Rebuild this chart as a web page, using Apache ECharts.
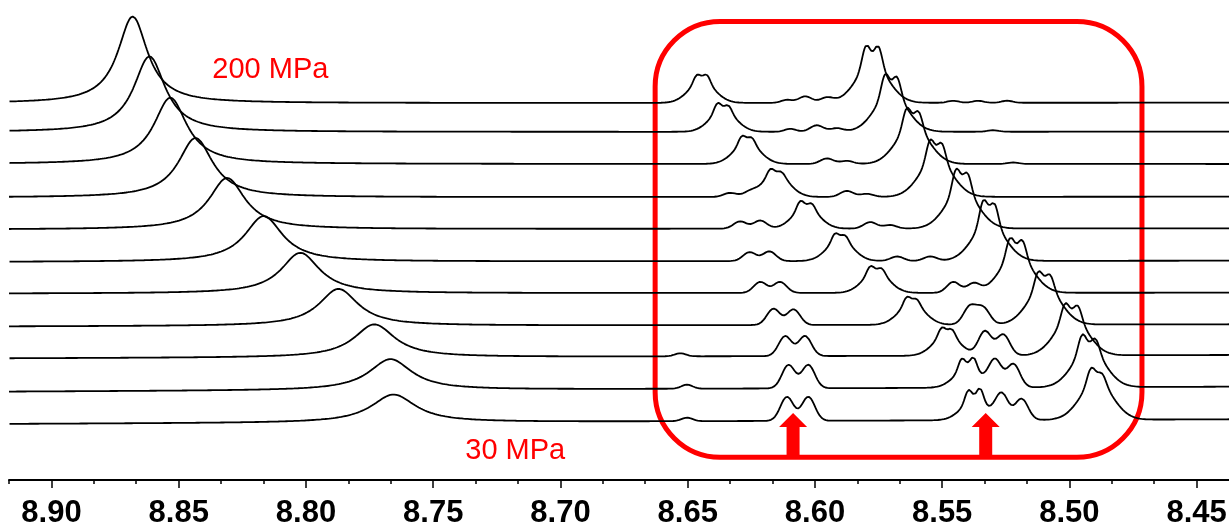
<!DOCTYPE html>
<html lang="en">
<head>
<meta charset="UTF-8">
<title>Stacked 1H NMR, 30-200 MPa</title>
<script src="https://cdn.jsdelivr.net/npm/echarts@6/dist/echarts.min.js"></script>
<style>
  body { margin: 0; background: #fff; }
  #chart { width: 1229px; height: 530px; }
</style>
</head>
<body>
<div id="chart"></div>
<script>
// ---- axis ----
const X_MIN = 8.4373;
const X_MAX = 8.9167;
const majorTicks = [8.90, 8.85, 8.80, 8.75, 8.70, 8.65, 8.60, 8.55, 8.50, 8.45];
const minorTicks = [8.9167, 8.8833, 8.8667, 8.8333, 8.8167, 8.7833, 8.7667, 8.7333, 8.7167,
  8.6833, 8.6667, 8.6333, 8.6167, 8.5833, 8.5667, 8.5333, 8.5167, 8.4833, 8.4667];

// ---- traces, top (200 MPa) to bottom (30 MPa) ----
// baseline level at the left and right ends of each trace
const baseLeft  = [376.7, 347.9, 316.0, 282.5, 250.5, 218.0, 186.4, 153.5, 121.6, 88.3, 56.0];
const baseRight = [377.3, 348.3, 316.0, 283.3, 251.7, 219.3, 187.3, 155.7, 125.0, 93.3, 60.7];

// broad peak on the left: [ppm, height, half width]
const bigPeak = [
  [8.8681, 86.7, 0.0071], [8.8615, 75.7, 0.0075], [8.8533, 66.3, 0.0079], [8.8434, 59.4, 0.0082],
  [8.8310, 51.3, 0.0086], [8.8166, 45.7, 0.0090], [8.8022, 40.6, 0.0092], [8.7872, 37.0, 0.0094],
  [8.7731, 33.0, 0.0098], [8.7668, 31.0, 0.0102], [8.7656, 28.0, 0.0106]
];

// moving doublet (left of the box): [ppm1, ppm2, h1, h2, base height]
const doubletA = [
  [8.6464, 8.6425, 8.4, 8.4, 21], [8.6383, 8.6340, 9.4, 7.1, 21], [8.6287, 8.6248, 8.4, 6.7, 21],
  [8.6176, 8.6130, 7.0, 4.0, 23], [8.6058, 8.6012, 8.7, 6.1, 21], [8.5921, 8.5881, 8.1, 6.1, 21],
  [8.5783, 8.5737, 7.7, 5.4, 21], [8.5639, 8.5600, 8.4, 6.0, 21], [8.5502, 8.5462, 8.7, 7.0, 21],
  [8.5423, 8.5377, 12.0, 13.0, 19], [8.5397, 8.5351, 13.0, 14.6, 19]
];

// large moving doublet: [ppm1, ppm2, h1, h2, base height]
const doubletB = [
  [8.5799, 8.5751, 21.9, 21.2, 38], [8.5724, 8.5678, 21.8, 19.2, 38], [8.5639, 8.5593, 20.2, 16.8, 38],
  [8.5547, 8.5502, 21.2, 17.9, 38], [8.5445, 8.5401, 23.5, 19.5, 38], [8.5338, 8.5295, 24.5, 21.2, 38],
  [8.5233, 8.5185, 19.5, 17.1, 38], [8.5122, 8.5076, 17.5, 14.1, 38], [8.5017, 8.4967, 16.8, 14.5, 38],
  [8.4950, 8.4897, 17.9, 13.5, 38], [8.4915, 8.4872, 15.8, 10.2, 38]
];

// doublet growing toward 8.61 ppm (first arrow): [ppm1, ppm2, h1, h2]
const doubletC = [
  null, null, null,
  [8.6333, 8.6255, 4.0, 4.0], [8.6294, 8.6215, 7.3, 8.1], [8.6257, 8.6179, 9.0, 9.7],
  [8.6215, 8.6137, 11.0, 11.0], [8.6163, 8.6084, 16.3, 15.6], [8.6117, 8.6039, 20.0, 20.0],
  [8.6104, 8.6026, 23.4, 23.4], [8.6110, 8.6026, 24.0, 24.0]
];

// doublet growing toward 8.53 ppm (second arrow): [ppm1, ppm2, h1, h2]
const doubletE = [
  [8.6038, 8.5953, 6.5, 5.0], [8.5993, 8.5914, 6.5, 3.5], [8.5953, 8.5875, 5.5, 3.0],
  [8.5875, 8.5796, 6.0, 3.0], [8.5783, 8.5705, 6.5, 3.5], [8.5677, 8.5547, 4.5, 4.5],
  [8.5456, 8.5377, 11.0, 9.0], [8.5391, 8.5338, 18.0, 16.3], [8.5332, 8.5260, 24.3, 21.0],
  [8.5292, 8.5220, 26.7, 23.4], [8.5266, 8.5188, 25.7, 21.3]
];

// small extra bumps: [ppm, height]
const bumps = [
  [[8.6110, 3.0], [8.5457, 2.0], [8.5359, 2.0], [8.5245, 2.0]],
  [[8.6097, 3.0], [8.5300, 1.5]],
  [[8.5222, 1.5]],
  [], [], [], [], [],
  [[8.6529, 3.0]],
  [[8.6503, 4.0]],
  [[8.6503, 3.5]]
];

// line widths (ppm)
const A_NARROW = 0.00138, A_BASE = 0.0051;
const B_NARROW = 0.00157, B_BASE = 0.0063;
const CE_WIDTH = 0.00255, BUMP_WIDTH = 0.0022;

function gauss(x, c, h, s) { const d = (x - c) / s; return h * Math.exp(-0.5 * d * d); }
function lorentz(x, c, h, w) { const d = (x - c) / w; return h / (1 + d * d); }

function buildTrace(i) {
  const pts = [];
  const L = bigPeak[i], A = doubletA[i], B = doubletB[i], C = doubletC[i], E = doubletE[i];
  for (let k = 0; ; k++) {
    const x = X_MIN + k * 0.0002;
    if (x > X_MAX) break;
    const t = (X_MAX - x) / (X_MAX - X_MIN);
    let y = baseLeft[i] + (baseRight[i] - baseLeft[i]) * t;
    y += lorentz(x, L[0], L[1], L[2]);
    y += gauss(x, A[0], A[2], A_NARROW) + gauss(x, A[1], A[3], A_NARROW) + gauss(x, (A[0] + A[1]) / 2, A[4], A_BASE);
    y += gauss(x, B[0], B[2], B_NARROW) + gauss(x, B[1], B[3], B_NARROW) + gauss(x, (B[0] + B[1]) / 2, B[4], B_BASE);
    if (C) y += gauss(x, C[0], C[2], CE_WIDTH) + gauss(x, C[1], C[3], CE_WIDTH);
    if (E) y += gauss(x, E[0], E[2], CE_WIDTH) + gauss(x, E[1], E[3], CE_WIDTH);
    bumps[i].forEach(b => { y += gauss(x, b[0], b[1], BUMP_WIDTH); });
    pts.push([+x.toFixed(4), +y.toFixed(2)]);
  }
  return pts;
}

const chart = echarts.init(document.getElementById('chart'));

const series = bigPeak.map((_, i) => ({
  type: 'line',
  data: buildTrace(i),
  showSymbol: false,
  symbol: 'none',
  smooth: false,
  lineStyle: { color: '#000', width: 1.8 },
  silent: true
}));

chart.setOption({
  animation: false,
  backgroundColor: '#fff',
  grid: { left: 9, right: 0, top: 0, bottom: 50, outerBoundsMode: 'none', containLabel: false },
  xAxis: [
    {
      type: 'value', inverse: true, min: X_MIN, max: X_MAX, position: 'bottom',
      axisLine: { lineStyle: { color: '#000', width: 2 } },
      axisTick: { customValues: majorTicks, length: 8, lineStyle: { color: '#000', width: 1.5 } },
      axisLabel: {
        customValues: majorTicks, formatter: v => v.toFixed(2), margin: 18,
        color: '#000', fontSize: 31, fontWeight: 'bold', fontFamily: 'Liberation Sans, Arial, sans-serif',
        hideOverlap: false
      },
      splitLine: { show: false }
    },
    {
      type: 'value', inverse: true, min: X_MIN, max: X_MAX, position: 'bottom', gridIndex: 0,
      axisLine: { show: false },
      axisTick: { customValues: minorTicks, length: 4, lineStyle: { color: '#000', width: 1.5 } },
      axisLabel: { show: false },
      splitLine: { show: false }
    }
  ],
  yAxis: { type: 'value', min: 0, max: 480, show: false },
  series: series
});

// annotations placed from data coordinates
const px = (ppm, v) => chart.convertToPixel({ xAxisIndex: 0, yAxisIndex: 0 }, [ppm, v]);
const boxTL = px(8.6628, 458.5), boxBR = px(8.4715, 22.7);

function arrow(ppm) {
  const tip = px(ppm, 67), neck = px(ppm, 53), foot = px(ppm, 22.7);
  const cx = tip[0];
  return {
    type: 'polygon',
    shape: { points: [[cx, tip[1]], [cx + 14, neck[1]], [cx + 6.5, neck[1]], [cx + 6.5, foot[1]],
                      [cx - 6.5, foot[1]], [cx - 6.5, neck[1]], [cx - 14, neck[1]]] },
    style: { fill: '#ff0000' }
  };
}

const label200 = px(8.8368, 410), label30 = px(8.7374, 29);

chart.setOption({
  graphic: [
    {
      type: 'rect',
      shape: { x: boxTL[0], y: boxTL[1], width: boxBR[0] - boxTL[0], height: boxBR[1] - boxTL[1], r: 65 },
      style: { fill: 'none', stroke: '#ff0000', lineWidth: 5 }
    },
    arrow(8.6086),
    arrow(8.5329),
    {
      type: 'text', x: label200[0], y: label200[1],
      style: { text: '200 MPa', fill: '#ff0000', font: '29px "Liberation Sans", Arial, sans-serif', verticalAlign: 'middle' }
    },
    {
      type: 'text', x: label30[0], y: label30[1],
      style: { text: '30 MPa', fill: '#ff0000', font: '29px "Liberation Sans", Arial, sans-serif', verticalAlign: 'middle' }
    }
  ]
});
</script>
</body>
</html>
